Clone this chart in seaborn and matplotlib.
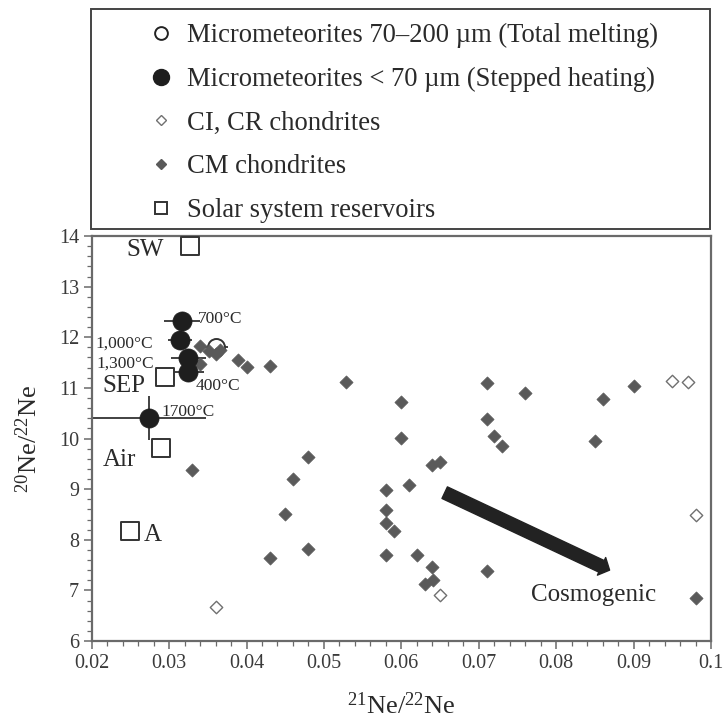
import numpy as np
import pandas as pd
import matplotlib
matplotlib.use("Agg")
import matplotlib.pyplot as plt
import seaborn as sns
from matplotlib.lines import Line2D
from matplotlib.patches import Rectangle, FancyArrowPatch
from matplotlib.ticker import MultipleLocator

# ---------------- data ----------------
cm_x = [0.034, 0.0352, 0.036, 0.0366, 0.034, 0.0389, 0.040, 0.043, 0.0529, 0.060,
        0.060, 0.048, 0.033, 0.046, 0.058, 0.061, 0.058, 0.045, 0.058, 0.059,
        0.048, 0.043, 0.058, 0.071, 0.076, 0.086, 0.090, 0.071, 0.072, 0.073,
        0.085, 0.064, 0.065, 0.062, 0.064, 0.0641, 0.063, 0.071, 0.098]
cm_y = [11.82, 11.72, 11.66, 11.75, 11.47, 11.55, 11.42, 11.44, 11.12, 10.73,
        10.01, 9.63, 9.37, 9.20, 8.98, 9.08, 8.59, 8.51, 8.34, 8.18,
        7.82, 7.63, 7.69, 11.09, 10.90, 10.78, 11.03, 10.38, 10.05, 9.85,
        9.95, 9.48, 9.53, 7.69, 7.46, 7.21, 7.13, 7.39, 6.84]

ci_x = [0.036, 0.065, 0.095, 0.097, 0.098]
ci_y = [6.67, 6.91, 11.14, 11.12, 8.49]

res_names = ["SW", "SEP", "Air", "A"]
res_x = [0.0327, 0.0295, 0.029, 0.0249]
res_y = [13.80, 11.21, 9.81, 8.18]

mm_small_labels = ["700°C", "1,000°C", "1,300°C", "400°C", "1700°C"]
mm_small_x = [0.0317, 0.0314, 0.0325, 0.0324, 0.0274]
mm_small_y = [12.32, 11.95, 11.59, 11.31, 10.40]
mm_small_xerr = [0.0023, 0.0016, 0.0023, 0.0021, 0.0074]
mm_small_yerr = [0.0, 0.0, 0.0, 0.0, 0.43]

mm_large_x = [0.0361]
mm_large_y = [11.80]
mm_large_xerr = [0.0015]

arrow_start = (0.0656, 8.93)
arrow_end = (0.0869, 7.40)
cosmo_label = "Cosmogenic"
cosmo_pos = (0.0848, 6.90)

legend_labels = ["Micrometeorites 70\u2013200 \u00b5m (Total melting)",
                 "Micrometeorites < 70 \u00b5m (Stepped heating)",
                 "CI, CR chondrites",
                 "CM chondrites",
                 "Solar system reservoirs"]

# ---------------- style ----------------
sns.set_style("ticks")
plt.rcParams["font.family"] = ["Liberation Serif", "DejaVu Serif"]
plt.rcParams["mathtext.fontset"] = "custom"
plt.rcParams["mathtext.rm"] = "Liberation Serif"
plt.rcParams["mathtext.it"] = "Liberation Serif:italic"

GRAY = "#5a5a5a"
DARK = "#1e1e1e"
SPINE = "#6a6a6a"
TXT = "#2a2a2a"

W, H = 724, 727
fig = plt.figure(figsize=(W / 100, H / 100), dpi=100)
ax = fig.add_axes([91.7 / W, 1 - 641 / H, (711 - 91.7) / W, (641 - 236) / H])

cm_df = pd.DataFrame({"x": cm_x, "y": cm_y})
ci_df = pd.DataFrame({"x": ci_x, "y": ci_y})
res_df = pd.DataFrame({"x": res_x, "y": res_y, "name": res_names})
mms_df = pd.DataFrame({"x": mm_small_x, "y": mm_small_y, "xerr": mm_small_xerr,
                       "yerr": mm_small_yerr, "label": mm_small_labels})
mml_df = pd.DataFrame({"x": mm_large_x, "y": mm_large_y, "xerr": mm_large_xerr})

# error bars
ax.errorbar(mms_df["x"], mms_df["y"], xerr=mms_df["xerr"], yerr=mms_df["yerr"],
            fmt="none", ecolor="#333333", elinewidth=1.3, capsize=0, zorder=2)
ax.errorbar(mml_df["x"], mml_df["y"], xerr=mml_df["xerr"],
            fmt="none", ecolor="#333333", elinewidth=1.3, capsize=0, zorder=2)

sns.scatterplot(data=ci_df, x="x", y="y", marker="D", s=40, facecolor="white",
                edgecolor="#707070", linewidth=1.0, ax=ax, zorder=3, legend=False)
sns.scatterplot(data=res_df, x="x", y="y", marker="s", s=150, facecolor="white",
                edgecolor="#333333", linewidth=1.4, ax=ax, zorder=3, legend=False)
sns.scatterplot(data=mml_df, x="x", y="y", marker="o", s=150, facecolor="white",
                edgecolor="#333333", linewidth=1.4, ax=ax, zorder=3, legend=False)
sns.scatterplot(data=cm_df, x="x", y="y", marker="D", s=45, color=GRAY,
                edgecolor=GRAY, linewidth=0.5, ax=ax, zorder=4, legend=False)
sns.scatterplot(data=mms_df, x="x", y="y", marker="o", s=190, color=DARK,
                edgecolor=DARK, linewidth=0.5, ax=ax, zorder=5, legend=False)

# labels
res_off = {"SW": (-32, -3), "SEP": (-30, -6.5), "Air": (-30, -8.6), "A": (16.5, -3)}
for _, r in res_df.iterrows():
    ax.annotate(r["name"], (r["x"], r["y"]), xytext=res_off[r["name"]],
                textcoords="offset points", ha="center", va="center",
                fontsize=18, color=TXT)

temp_off = {"700°C": (11.5, 1.5, "left"), "1,000°C": (-19, -3, "right"),
            "1,300°C": (-24.5, -4.3, "right"), "400°C": (5.5, -9.6, "left"),
            "1700°C": (9, 4.3, "left")}
for _, r in mms_df.iterrows():
    dx, dy, ha = temp_off[r["label"]]
    ax.annotate(r["label"], (r["x"], r["y"]), xytext=(dx, dy),
                textcoords="offset points", ha=ha, va="center",
                fontsize=12.5, color=TXT)

arr = FancyArrowPatch(arrow_start, arrow_end,
                      arrowstyle="simple,head_length=0.32,head_width=0.7,tail_width=0.46",
                      mutation_scale=20, color="#222222", zorder=6,
                      shrinkA=0, shrinkB=0)
ax.add_patch(arr)
ax.text(cosmo_pos[0], cosmo_pos[1], cosmo_label, ha="center", va="center",
        fontsize=18, color=TXT)

# axes
ax.set_xlim(0.02, 0.1)
ax.set_ylim(6, 14)
ax.xaxis.set_major_locator(MultipleLocator(0.01))
ax.xaxis.set_minor_locator(MultipleLocator(0.002))
ax.yaxis.set_major_locator(MultipleLocator(1))
ax.yaxis.set_minor_locator(MultipleLocator(0.2))
ax.set_xticks(np.arange(0.02, 0.1001, 0.01))
ax.set_xticklabels(["0.02", "0.03", "0.04", "0.05", "0.06", "0.07", "0.08", "0.09", "0.1"])
ax.tick_params(axis="both", which="major", direction="out", length=6, width=1.1,
               colors=SPINE, labelcolor="#3a3a3a", labelsize=14.5, pad=3)
ax.tick_params(axis="both", which="minor", direction="out", length=3.5, width=0.9,
               colors=SPINE)
for sp in ax.spines.values():
    sp.set_visible(True)
    sp.set_color(SPINE)
    sp.set_linewidth(1.6)

ax.set_xlabel(r"$^{21}$Ne/$^{22}$Ne", fontsize=19, color=TXT, labelpad=14)
ax.set_ylabel(r"$^{20}$Ne/$^{22}$Ne", fontsize=19, color=TXT, labelpad=12)

# legend frame & legend
fig.patches.append(Rectangle((91 / W, 1 - 229 / H), 619 / W, 220 / H,
                             transform=fig.transFigure, fill=False,
                             edgecolor="#444444", linewidth=1.4))
handles = [
    Line2D([], [], marker="o", linestyle="none", markersize=9.2,
           markerfacecolor="white", markeredgecolor="#222222", markeredgewidth=1.4),
    Line2D([], [], marker="o", linestyle="none", markersize=11.5,
           markerfacecolor=DARK, markeredgecolor=DARK),
    Line2D([], [], marker="D", linestyle="none", markersize=4.8,
           markerfacecolor="white", markeredgecolor="#707070", markeredgewidth=1.0),
    Line2D([], [], marker="D", linestyle="none", markersize=4.8,
           markerfacecolor=GRAY, markeredgecolor=GRAY),
    Line2D([], [], marker="s", linestyle="none", markersize=8.6,
           markerfacecolor="white", markeredgecolor="#333333", markeredgewidth=1.4),
]
fig.legend(handles, legend_labels, loc="upper left",
           bbox_to_anchor=(150 / W, 1 - 23 / H), frameon=False,
           fontsize=19.2, handlelength=0.82, handletextpad=0.56,
           labelspacing=0.7, borderpad=0, borderaxespad=0,
           labelcolor=TXT)

fig.savefig("out.png", dpi=100)
